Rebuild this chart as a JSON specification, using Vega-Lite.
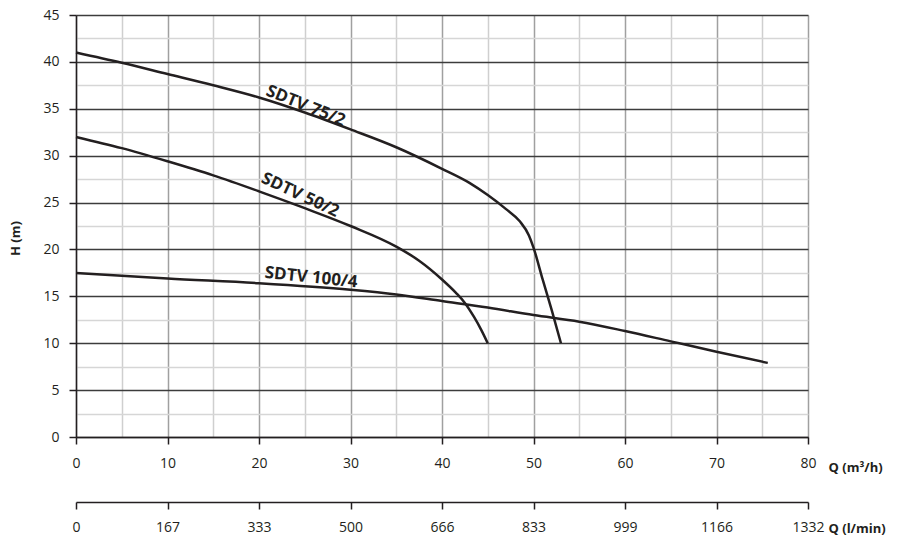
{
  "$schema": "https://vega.github.io/schema/vega-lite/v6.json",
  "width": 732,
  "height": 422,
  "autosize": {"type": "none"},
  "padding": {"left": 76, "top": 15, "right": 94, "bottom": 101},
  "background": "white",
  "config": {
    "view": {"stroke": null},
    "font": "Open Sans",
    "axis": {"labelFont": "Open Sans", "titleFont": "Open Sans", "labelColor": "#231f20", "titleColor": "#231f20"}
  },
  "datasets": {
    "curves": [
      {"pump": "SDTV 75/2", "q": 0, "h": 41},
      {"pump": "SDTV 75/2", "q": 5, "h": 39.9},
      {"pump": "SDTV 75/2", "q": 10, "h": 38.7},
      {"pump": "SDTV 75/2", "q": 15, "h": 37.5},
      {"pump": "SDTV 75/2", "q": 20, "h": 36.2},
      {"pump": "SDTV 75/2", "q": 25, "h": 34.6},
      {"pump": "SDTV 75/2", "q": 30, "h": 32.8},
      {"pump": "SDTV 75/2", "q": 35, "h": 30.9},
      {"pump": "SDTV 75/2", "q": 40, "h": 28.6},
      {"pump": "SDTV 75/2", "q": 43, "h": 27.1},
      {"pump": "SDTV 75/2", "q": 45, "h": 25.8},
      {"pump": "SDTV 75/2", "q": 47, "h": 24.3},
      {"pump": "SDTV 75/2", "q": 48.5, "h": 23.0},
      {"pump": "SDTV 75/2", "q": 49.5, "h": 21.5},
      {"pump": "SDTV 75/2", "q": 50, "h": 20.2},
      {"pump": "SDTV 75/2", "q": 51, "h": 16.8},
      {"pump": "SDTV 75/2", "q": 52, "h": 13.5},
      {"pump": "SDTV 75/2", "q": 53, "h": 10},
      {"pump": "SDTV 50/2", "q": 0, "h": 32},
      {"pump": "SDTV 50/2", "q": 5, "h": 30.8},
      {"pump": "SDTV 50/2", "q": 10, "h": 29.4},
      {"pump": "SDTV 50/2", "q": 15, "h": 27.9},
      {"pump": "SDTV 50/2", "q": 20, "h": 26.2},
      {"pump": "SDTV 50/2", "q": 25, "h": 24.4},
      {"pump": "SDTV 50/2", "q": 30, "h": 22.5},
      {"pump": "SDTV 50/2", "q": 35, "h": 20.3},
      {"pump": "SDTV 50/2", "q": 37.5, "h": 18.8},
      {"pump": "SDTV 50/2", "q": 40, "h": 16.8},
      {"pump": "SDTV 50/2", "q": 41.5, "h": 15.4},
      {"pump": "SDTV 50/2", "q": 42.5, "h": 14.3},
      {"pump": "SDTV 50/2", "q": 43.5, "h": 12.8},
      {"pump": "SDTV 50/2", "q": 44.3, "h": 11.4},
      {"pump": "SDTV 50/2", "q": 45, "h": 10},
      {"pump": "SDTV 100/4", "q": 0, "h": 17.5},
      {"pump": "SDTV 100/4", "q": 10, "h": 16.9},
      {"pump": "SDTV 100/4", "q": 20, "h": 16.4},
      {"pump": "SDTV 100/4", "q": 30, "h": 15.7},
      {"pump": "SDTV 100/4", "q": 35, "h": 15.2},
      {"pump": "SDTV 100/4", "q": 40, "h": 14.5},
      {"pump": "SDTV 100/4", "q": 45, "h": 13.8},
      {"pump": "SDTV 100/4", "q": 50, "h": 13.0},
      {"pump": "SDTV 100/4", "q": 55, "h": 12.3},
      {"pump": "SDTV 100/4", "q": 60, "h": 11.3},
      {"pump": "SDTV 100/4", "q": 65, "h": 10.2},
      {"pump": "SDTV 100/4", "q": 70, "h": 9.1},
      {"pump": "SDTV 100/4", "q": 75.6, "h": 7.9}
    ],
    "labels": [
      {"text": "SDTV 75/2", "q": 25.1, "h": 35.3},
      {"text": "SDTV 50/2", "q": 24.5, "h": 25.8},
      {"text": "SDTV 100/4", "q": 25.7, "h": 17.0}
    ]
  },
  "resolve": {"axis": {"x": "independent", "y": "independent"}},
  "layer": [
    {
      "data": {"name": "curves"},
      "mark": {"type": "line", "interpolate": "monotone", "color": "#231f20", "strokeWidth": 2.5},
      "encoding": {
        "x": {
          "field": "q", "type": "quantitative",
          "scale": {"domain": [0, 80], "nice": false, "zero": false},
          "axis": {
            "orient": "bottom",
            "values": [0, 5, 10, 15, 20, 25, 30, 35, 40, 45, 50, 55, 60, 65, 70, 75, 80],
            "labelExpr": "datum.value % 10 === 0 ? datum.label : ''",
            "labelOverlap": false,
            "labelFlush": false,
            "labelFontSize": 14,
            "labelPadding": 12,
            "grid": true,
            "gridColor": {"condition": {"test": "datum.value % 10 === 0", "value": "#a0a0a0"}, "value": "#cfcfcf"},
            "gridWidth": 1.5,
            "tickOpacity": {"condition": {"test": "datum.value % 10 !== 0", "value": 0}, "value": 1},
            "tickSize": 7,
            "tickColor": "#231f20",
            "tickWidth": 1.5,
            "domainColor": "#231f20",
            "domainWidth": 1.5,
            "title": "Q (m³/h)",
            "titleFontSize": 13,
            "titleFontWeight": "bold",
            "titleX": 752,
            "titleY": 30,
            "titleAlign": "left",
            "titleBaseline": "middle",
            "titleAngle": 0
          }
        },
        "y": {
          "field": "h", "type": "quantitative",
          "scale": {"domain": [0, 45], "nice": false},
          "axis": {
            "orient": "left",
            "values": [0, 2.5, 5, 7.5, 10, 12.5, 15, 17.5, 20, 22.5, 25, 27.5, 30, 32.5, 35, 37.5, 40, 42.5, 45],
            "labelExpr": "datum.value % 5 === 0 ? datum.label : ''",
            "labelOverlap": false,
            "labelFlush": false,
            "labelFontSize": 14,
            "labelPadding": 10,
            "grid": true,
            "gridColor": {"condition": {"test": "datum.value % 5 === 0", "value": "#3c3c3c"}, "value": "#d6d6d6"},
            "gridWidth": 1.5,
            "tickOpacity": {"condition": {"test": "datum.value % 5 !== 0", "value": 0}, "value": 1},
            "tickSize": 7,
            "tickColor": "#231f20",
            "tickWidth": 1.5,
            "domainColor": "#231f20",
            "domainWidth": 1.5,
            "title": "H (m)",
            "titleFontSize": 13,
            "titleFontWeight": "bold",
            "titleX": -61,
            "titleY": 223,
            "titleAlign": "center",
            "titleBaseline": "middle",
            "titleAngle": -90
          }
        },
        "detail": {"field": "pump"}
      }
    },
    {
      "data": {"name": "labels"},
      "transform": [{"filter": "datum.text === 'SDTV 75/2'"}],
      "mark": {"type": "text", "angle": 22, "fontSize": 17, "fontWeight": "bold", "color": "#231f20", "font": "Open Sans"},
      "encoding": {
        "x": {
          "field": "q", "type": "quantitative",
          "axis": {
            "orient": "bottom",
            "offset": 65,
            "values": [0, 10, 20, 30, 40, 50, 60, 70, 80],
            "labelExpr": "format(round(datum.value * 1332 / 80), 'd')",
            "labelOverlap": false,
            "labelFlush": false,
            "labelFontSize": 14,
            "labelPadding": 11,
            "grid": false,
            "tickSize": 7,
            "tickColor": "#231f20",
            "tickWidth": 1.5,
            "domainColor": "#231f20",
            "domainWidth": 1.5,
            "title": "Q (l/min)",
            "titleFontSize": 13,
            "titleFontWeight": "bold",
            "titleX": 752,
            "titleY": 26,
            "titleAlign": "left",
            "titleBaseline": "middle",
            "titleAngle": 0
          }
        },
        "y": {"field": "h", "type": "quantitative", "axis": null},
        "text": {"field": "text"}
      }
    },
    {
      "data": {"name": "labels"},
      "transform": [{"filter": "datum.text === 'SDTV 50/2'"}],
      "mark": {"type": "text", "angle": 25, "fontSize": 17, "fontWeight": "bold", "color": "#231f20", "font": "Open Sans"},
      "encoding": {
        "x": {"field": "q", "type": "quantitative", "axis": null},
        "y": {"field": "h", "type": "quantitative", "axis": null},
        "text": {"field": "text"}
      }
    },
    {
      "data": {"name": "labels"},
      "transform": [{"filter": "datum.text === 'SDTV 100/4'"}],
      "mark": {"type": "text", "angle": 6, "fontSize": 17, "fontWeight": "bold", "color": "#231f20", "font": "Open Sans"},
      "encoding": {
        "x": {"field": "q", "type": "quantitative", "axis": null},
        "y": {"field": "h", "type": "quantitative", "axis": null},
        "text": {"field": "text"}
      }
    }
  ]
}
